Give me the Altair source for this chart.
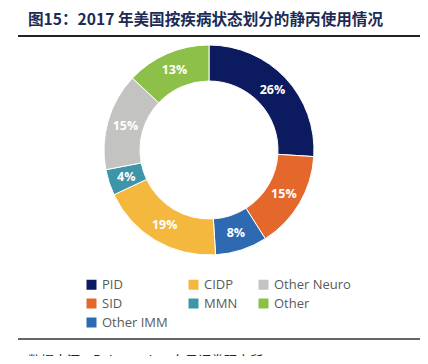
import altair as alt
import pandas as pd

title_text = "图15：2017 年美国按疾病状态划分的静丙使用情况"
source_text = "数据来源：Robomedy，东吴证券研究所"

# clockwise from 12 o'clock
categories = ["PID", "SID", "Other IMM", "CIDP", "MMN", "Other Neuro", "Other"]
shares = [26, 15, 8, 19, 4, 15, 13]
labels = ["26%", "15%", "8%", "19%", "4%", "15%", "13%"]
legend_order = ["PID", "CIDP", "Other Neuro", "SID", "MMN", "Other", "Other IMM"]
legend_colors = ["#0c1a5f", "#f5b83f", "#c3c3c1", "#e4682c", "#3c96a8", "#8cc049", "#2e6ab1"]

df = pd.DataFrame({
    "cat": categories,
    "share": shares,
    "label": labels,
    "ord": list(range(len(categories))),
})

W, H = 412, 348
cx, cy = 201, 142

scale = alt.Scale(domain=legend_order, range=legend_colors)

base = alt.Chart(df).encode(
    theta=alt.Theta("share:Q", stack=True),
    order=alt.Order("ord:Q"),
)

arcs = base.mark_arc(
    innerRadius=69, outerRadius=105, stroke="white", strokeWidth=1
).encode(
    color=alt.Color(
        "cat:N",
        scale=scale,
        legend=alt.Legend(
            title=None,
            orient="none",
            direction="horizontal",
            legendX=77,
            legendY=270,
            columns=3,
            symbolType="square",
            symbolSize=100,
            symbolStrokeWidth=0,
            labelFontSize=13,
            labelFont="Open Sans",
            labelColor="#5a5a5a",
            labelOffset=4,
            rowPadding=5,
            columnPadding=19,
            padding=0,
        ),
    ),
    x=alt.value(cx), y=alt.value(cy),
)

texts = base.mark_text(
    radius=87, fontSize=12.5, fontWeight="bold", font="Open Sans", color="white"
).encode(text="label:N", x=alt.value(cx), y=alt.value(cy))

tdf = pd.DataFrame({"t": [title_text]})
title = alt.Chart(tdf).mark_text(
    align="left", baseline="middle", fontSize=15.6, fontWeight="bold",
    font="Noto Sans CJK SC", color="#1c2b55"
).encode(text="t:N", x=alt.value(20), y=alt.value(12))

sdf = pd.DataFrame({"t": [source_text]})
source = alt.Chart(sdf).mark_text(
    align="left", baseline="top", fontSize=13,
    font="Noto Sans CJK SC", color="#222222"
).encode(text="t:N", x=alt.value(20), y=alt.value(347))

rule_top = alt.Chart(tdf).mark_rule(color="#222222", strokeWidth=2).encode(
    x=alt.value(10), x2=alt.value(412), y=alt.value(28)
)
rule_bot = alt.Chart(tdf).mark_rule(color="#333333", strokeWidth=1.5).encode(
    x=alt.value(10), x2=alt.value(412), y=alt.value(331)
)

chart = alt.layer(arcs, texts, title, source, rule_top, rule_bot).properties(
    width=W, height=H, padding=0, autosize=alt.AutoSizeParams(type="none")
).configure_view(stroke=None)

chart.save("out.html", embed_options={"renderer": "svg", "actions": False})
